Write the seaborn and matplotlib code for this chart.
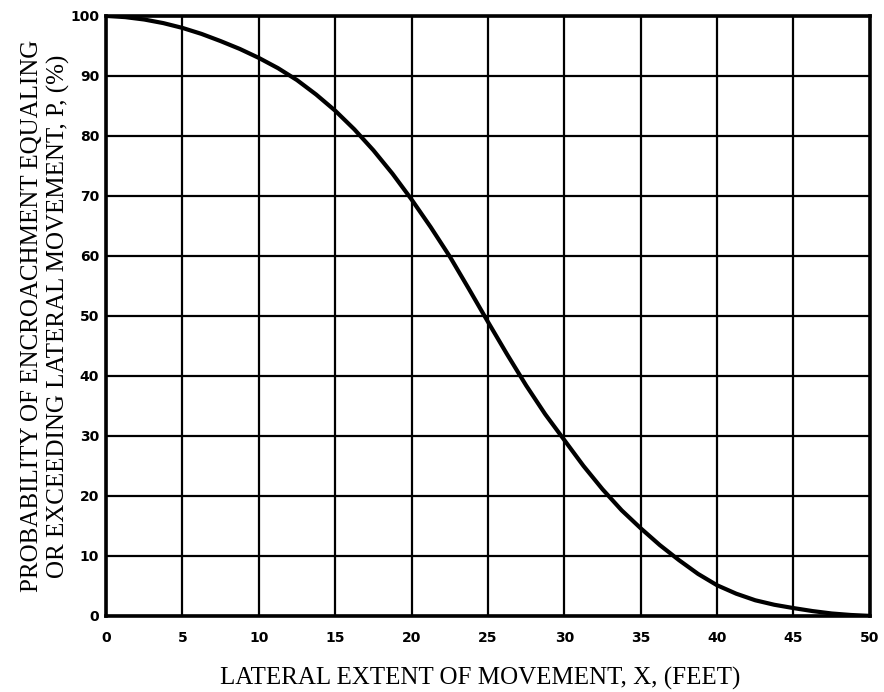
import numpy as np
import pandas as pd
import matplotlib
matplotlib.use("Agg")
import matplotlib.pyplot as plt
import seaborn as sns

# values
lateral_ft = [0, 1.25, 2.5, 3.75, 5, 6.25, 7.5, 8.75, 10, 11.25, 12.5,
              13.75, 15, 16.25, 17.5, 18.75, 20, 21.25, 22.5, 23.75, 25,
              26.25, 27.5, 28.75, 30, 31.25, 32.5, 33.75, 35, 36.25, 37.5,
              38.75, 40, 41.25, 42.5, 43.75, 45, 46.25, 47.5, 48.75, 50]
prob_pct = [100, 99.8, 99.4, 98.8, 98.0, 97.0, 95.8, 94.5, 93.0, 91.3, 89.3,
            86.9, 84.2, 81.1, 77.6, 73.7, 69.4, 64.8, 59.9, 54.5, 49.0,
            43.6, 38.4, 33.6, 29.3, 25.0, 21.1, 17.6, 14.6, 11.8, 9.3,
            7.0, 5.1, 3.7, 2.6, 1.85, 1.3, 0.8, 0.4, 0.15, 0]
x_ticks = list(range(0, 51, 5))
y_ticks = list(range(0, 101, 10))

df = pd.DataFrame({"x": lateral_ft, "p": prob_pct})

sns.set_style("white")
plt.rcParams["text.color"] = "black"
plt.rcParams["axes.labelcolor"] = "black"
plt.rcParams["xtick.color"] = "black"
plt.rcParams["ytick.color"] = "black"
fig = plt.figure(figsize=(8.84, 6.92), dpi=100)
ax = fig.add_axes([0.12, 0.110, 0.864, 0.867])

sns.lineplot(data=df, x="x", y="p", ax=ax, color="black", linewidth=3.0,
             solid_joinstyle="round", solid_capstyle="round")

ax.set_xlim(0, 50)
ax.set_ylim(0, 100)
ax.set_xticks(x_ticks)
ax.set_yticks(y_ticks)
ax.grid(True, color="black", linewidth=1.6)
for s in ax.spines.values():
    s.set_visible(True)
    s.set_color("black")
    s.set_linewidth(2.6)
ax.tick_params(axis="x", length=0, pad=11)
ax.tick_params(axis="y", length=0, pad=5)
for lab in ax.get_xticklabels() + ax.get_yticklabels():
    lab.set_fontweight("bold")
    lab.set_fontsize(10)
    lab.set_family("DejaVu Sans")

ax.set_xlabel("LATERAL EXTENT OF MOVEMENT, X, (FEET)", family="Liberation Serif",
              fontsize=18)
ax.xaxis.set_label_coords(0.49, -0.104)
ax.set_ylabel("PROBABILITY OF ENCROACHMENT EQUALING\nOR EXCEEDING LATERAL MOVEMENT, P, (%)",
              family="Liberation Serif", fontsize=18, linespacing=1.2)
ax.yaxis.set_label_coords(-0.079, 0.5)
ax.yaxis.label.set_va("center")
ax.xaxis.label.set_va("center")

fig.savefig("out.png", dpi=100, facecolor="white")
